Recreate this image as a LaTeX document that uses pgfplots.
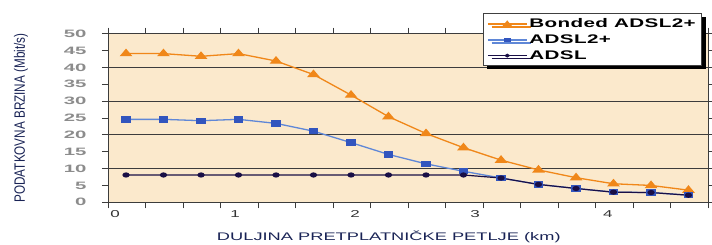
\documentclass[border=0pt]{standalone}
\usepackage{fontspec}
\usepackage{pgfplots}
\pgfplotsset{compat=1.18}
\usetikzlibrary{shadows}
\newfontfamily\tickfont[FakeStretch=1.9]{Liberation Sans}
\newfontfamily\xtickfont[FakeStretch=1.7]{Liberation Sans}
\newfontfamily\xlabfont[FakeStretch=1.66]{Liberation Sans}
\newfontfamily\ylabfont[FakeStretch=0.78]{Liberation Sans}
\newfontfamily\legfont[FakeStretch=1.65,LetterSpace=3]{Liberation Sans}
\definecolor{bgbeige}{RGB}{251,233,204}
\definecolor{cOrange}{RGB}{240,135,25}
\definecolor{cBlueL}{RGB}{95,135,215}
\definecolor{cBlueM}{RGB}{50,85,190}
\definecolor{cNavy}{RGB}{25,15,70}
\definecolor{cLab}{RGB}{25,35,85}
\definecolor{cTick}{RGB}{140,140,140}
\definecolor{cGrid}{RGB}{60,60,60}
\begin{document}
\begin{tikzpicture}[x=1pt,y=1pt]
\useasboundingbox (0,0) rectangle (712,244);
\begin{axis}[
  at={(108pt,41.7pt)}, anchor=south west,
  scale only axis, width=600pt, height=168.6pt,
  xmin=-0.0583, xmax=4.9417, ymin=0, ymax=50,
  axis background/.style={fill=bgbeige},
  axis line style={cGrid, line width=0.9pt},
  tick align=outside, major tick length=6pt,
  tick style={cGrid, line width=0.9pt},
  xtick={-0.0583,0.2542,...,4.95}, xticklabels={},
  extra x ticks={0,1,2,3,4.108}, extra x tick labels={0,1,2,3,4},
  extra x tick style={major tick length=0pt, grid=none,
    xticklabel style={font=\xtickfont\fontsize{10}{12}\selectfont, text=black!80, yshift=-5pt}},
  ytick={0,5,...,50},
  yticklabel style={font=\tickfont\bfseries\fontsize{10.7}{12}\selectfont, text=cTick, anchor=east, xshift=-12pt},
  extra y ticks={10,20,30,40}, extra y tick labels={},
  extra y tick style={grid=major, major tick length=0pt, major grid style={cGrid, line width=0.9pt}},
  /pgf/number format/assume math mode=true,
  xlabel={DULJINA PRETPLATNIČKE PETLJE (km)},
  xlabel style={font=\xlabfont\fontsize{11}{13}\selectfont, text=cLab, at={(axis description cs:0.468,-0.203)}, anchor=center},
  ylabel={PODATKOVNA BRZINA (Mbit/s)},
  ylabel style={font=\ylabfont\fontsize{15}{17}\selectfont, text=cLab, at={(axis description cs:-0.145,0.5)}, anchor=center},
  legend style={at={(axis description cs:0.6245,1.121)}, anchor=north west,
    draw=black!75, fill=white, line width=0.8pt, inner xsep=4pt, inner ysep=3pt,
    font=\legfont\bfseries\fontsize{12.5}{14}\selectfont, row sep=1.5pt,
    drop shadow={shadow xshift=4pt, shadow yshift=-3pt, fill=black, opacity=1}},
  legend cell align=left,
  legend image code/.code={\draw[mark repeat=2,mark phase=2,#1,every mark/.append style={scale=0.65}] plot coordinates {(0pt,0pt) (19.5pt,0pt) (39pt,0pt)};},
]
\addplot[cOrange, line width=1.3pt, mark=triangle*, mark size=4pt, mark options={xscale=1.45, fill=cOrange, draw=cOrange}] coordinates {
(0.092,44.1) (0.404,44.1) (0.717,43.3) (1.029,44.1) (1.342,41.9) (1.654,37.9) (1.967,31.8) (2.279,25.4)
(2.592,20.4) (2.904,16.2) (3.217,12.5) (3.529,9.6) (3.842,7.3) (4.154,5.5) (4.467,5.0) (4.779,3.6)};
\addlegendentry{Bonded ADSL2+}
\addplot[cBlueL, line width=1.3pt, mark=square*, mark size=2.5pt, mark options={xscale=1.6, fill=cBlueM, draw=cBlueM}] coordinates {
(0.092,24.6) (0.404,24.6) (0.717,24.2) (1.029,24.6) (1.342,23.4) (1.654,21.1) (1.967,17.7) (2.279,14.2)
(2.592,11.4) (2.904,9.2) (3.217,7.2) (3.529,5.3) (3.842,4.1) (4.154,3.0) (4.467,2.9) (4.779,2.1)};
\addlegendentry{ADSL2+}
\addplot[cNavy, line width=1.2pt, mark=*, mark size=2pt, mark options={xscale=1.5, fill=cNavy, draw=cNavy}] coordinates {
(0.092,8.1) (0.404,8.1) (0.717,8.1) (1.029,8.1) (1.342,8.1) (1.654,8.1) (1.967,8.1) (2.279,8.1)
(2.592,8.1) (2.904,8.1) (3.217,7.2) (3.529,5.3) (3.842,4.1) (4.154,3.0) (4.467,2.9) (4.779,2.1)};
\addlegendentry{ADSL}
\end{axis}
\end{tikzpicture}
\end{document}
